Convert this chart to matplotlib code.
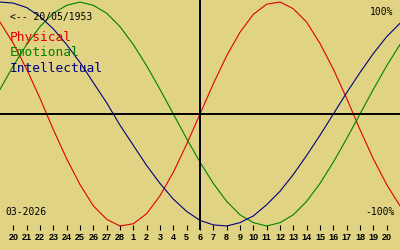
import matplotlib
matplotlib.use("Agg")
import matplotlib.pyplot as plt

# day index -1 .. 29 (0 = 20 Feb 2026, 14 = 6 Mar 2026)
days = list(range(-1, 30))
physical = [0.82, 0.63, 0.40, 0.14, -0.14, -0.40, -0.63, -0.82, -0.94, -1.00,
            -0.98, -0.89, -0.73, -0.52, -0.27, 0.00, 0.27, 0.52, 0.73, 0.89,
            0.98, 1.00, 0.94, 0.82, 0.63, 0.40, 0.14, -0.14, -0.40, -0.63, -0.82]
emotional = [0.22, 0.43, 0.62, 0.78, 0.90, 0.97, 1.00, 0.97, 0.90, 0.78,
             0.62, 0.43, 0.22, 0.00, -0.22, -0.43, -0.62, -0.78, -0.90, -0.97,
             -1.00, -0.97, -0.90, -0.78, -0.62, -0.43, -0.22, 0.00, 0.22, 0.43, 0.62]
intellectual = [1.00, 0.99, 0.95, 0.87, 0.76, 0.62, 0.46, 0.28, 0.10, -0.10,
                -0.28, -0.46, -0.62, -0.76, -0.87, -0.95, -0.99, -1.00, -0.97, -0.91,
                -0.81, -0.69, -0.54, -0.37, -0.19, 0.00, 0.19, 0.37, 0.54, 0.69, 0.81]
day_labels = ["20", "21", "22", "23", "24", "25", "26", "27", "28",
              "1", "2", "3", "4", "5", "6", "7", "8", "9", "10",
              "11", "12", "13", "14", "15", "16", "17", "18", "19", "20"]
today = 14
birth = "<-- 20/05/1953"
month = "03-2026"

bg = "#e0d484"
mono = "DejaVu Sans Mono"

fig = plt.figure(figsize=(4, 2.5), dpi=100, facecolor=bg)
ax = fig.add_axes([0, 20 / 250, 1, 230 / 250])
ax.set_facecolor(bg)

ax.plot(days, physical, color="#e00000", linewidth=0.8)
ax.plot(days, emotional, color="#008000", linewidth=0.8)
ax.plot(days, intellectual, color="#000080", linewidth=0.8)

ax.axhline(0, color="black", linewidth=1.4)
ax.axvline(today, color="black", linewidth=1.4)

ax.set_xlim(-1, 29)
ax.set_ylim(-116 / 112, 114 / 112)
for s in ax.spines.values():
    s.set_visible(False)

ax.set_xticks(range(len(day_labels)))
ax.set_xticklabels(day_labels, fontsize=6.5, fontweight="bold", family="Liberation Sans")
ax.tick_params(axis="x", direction="in", length=3.6, width=0.8, pad=2.5, colors="black")
ax.set_yticks([])

ax.text(10 / 400, 1 - 17 / 230, birth, transform=ax.transAxes, fontsize=7,
        family=mono, va="center", ha="left")
ax.text(5 / 400, 1 - 212 / 230, month, transform=ax.transAxes, fontsize=7,
        family=mono, va="center", ha="left")
ax.text(393 / 400, 1 - 12 / 230, "100%", transform=ax.transAxes, fontsize=7,
        family=mono, va="center", ha="right")
ax.text(395 / 400, 1 - 212 / 230, "-100%", transform=ax.transAxes, fontsize=7,
        family=mono, va="center", ha="right")

for name, col, yp in [("Physical", "#e00000", 38), ("Emotional", "#008000", 53),
                      ("Intellectual", "#000080", 68)]:
    ax.text(10 / 400, 1 - yp / 230, name, transform=ax.transAxes, fontsize=9.3,
            family=mono, color=col, va="center", ha="left")

fig.savefig("out.png", dpi=100, facecolor=bg)
